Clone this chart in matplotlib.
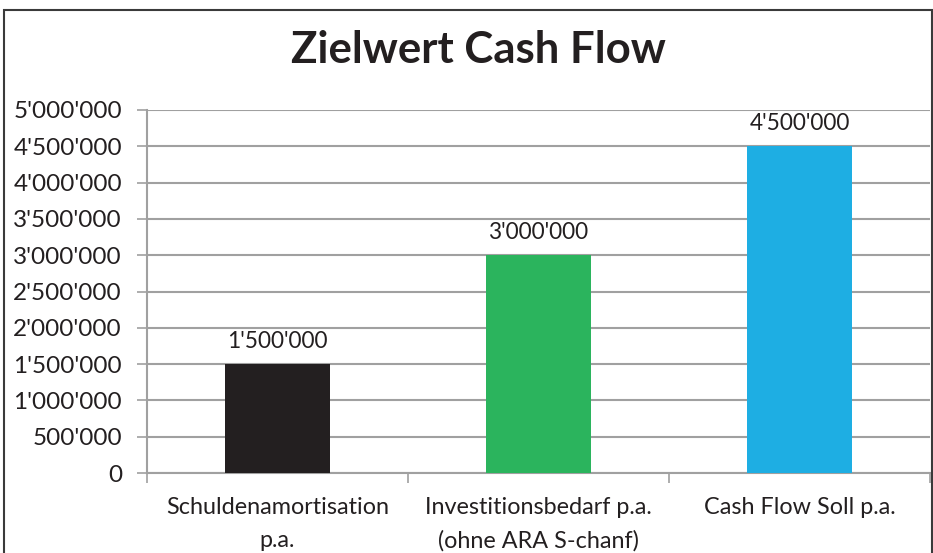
import matplotlib.pyplot as plt
from matplotlib.patches import Rectangle

categories = ["Schuldenamortisation\np.a.", "Investitionsbedarf p.a.\n(ohne ARA S-chanf)", "Cash Flow Soll p.a."]
values = [1500000, 3000000, 4500000]
colors = ["#231f20", "#2bb45d", "#1eaee3"]
yticks = list(range(0, 5000001, 500000))


def fmt(v):
	return "{:,}".format(v).replace(",", "'")


plt.rcParams['font.family'] = ['Lato', 'DejaVu Sans']
grid_c = "#a0a0a0"

fig = plt.figure(figsize=(9.33, 5.53), dpi=100)
ax = fig.add_axes([147 / 933, 80 / 553, 783 / 933, 363 / 553])

x = list(range(len(values)))
ax.bar(x, values, width=0.40, color=colors, zorder=3)
for xi, v in zip(x, values):
	ax.text(xi, v + 170000, fmt(v), ha="center", va="bottom", fontsize=16.3, color="#231f20")

ax.set_xlim(-0.5, 2.5)
ax.set_ylim(0, 5000000)
ax.set_yticks(yticks)
ax.set_yticklabels([fmt(t) for t in yticks], fontsize=17.5, color="#231f20")
ax.set_xticks([-0.5, 0.5, 1.5, 2.5])
ax.set_xticklabels([])
ax.set_xticks(x, minor=True)
ax.set_xticklabels(categories, minor=True, fontsize=16.8, color="#231f20", linespacing=1.7)
ax.tick_params(axis="x", which="minor", length=0, pad=17)
ax.tick_params(axis="x", which="major", length=7, color=grid_c, width=1.2)
ax.tick_params(axis="y", length=7, color=grid_c, width=1.2, pad=11)
ax.grid(axis="y", color=grid_c, linewidth=1.5, zorder=0)
for s in ["top", "right"]:
	ax.spines[s].set_visible(False)
for s in ["left", "bottom"]:
	ax.spines[s].set_color(grid_c)
	ax.spines[s].set_linewidth(1.5)

fig.text(478 / 933, 1 - 50 / 553, "Zielwert Cash Flow", ha="center", va="center",
	fontsize=31.5, fontweight="bold", color="#231f20")

fig.patches.append(Rectangle((4 / 933, -0.05), 928 / 933, 1.05 - 10 / 553, transform=fig.transFigure,
	fill=False, edgecolor="#3a3a3a", linewidth=1.5))

fig.savefig("out.png", dpi=100)
